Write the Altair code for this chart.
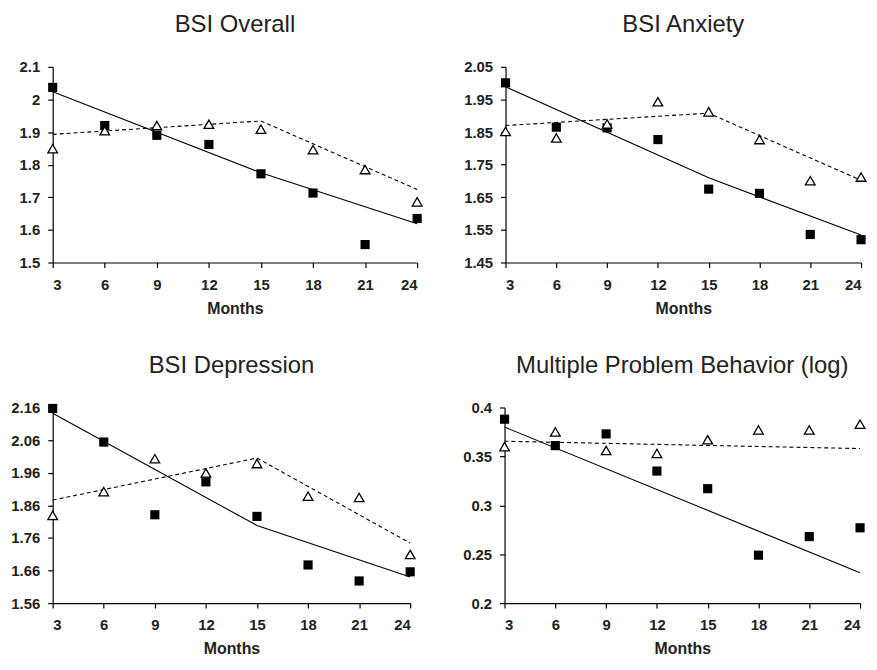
import altair as alt
import pandas as pd

months = [3, 6, 9, 12, 15, 18, 21, 24]
knots = [3, 15, 24]
mpb_knots = [3, 24]

titles = ["BSI Overall", "BSI Anxiety", "BSI Depression", "Multiple Problem Behavior (log)"]

overall_sq = [2.037, 1.920, 1.890, 1.862, 1.772, 1.713, 1.555, 1.635]
overall_tri = [1.849, 1.904, 1.920, 1.924, 1.909, 1.846, 1.785, 1.686]
overall_solid = [2.024, 1.775, 1.619]
overall_dash = [1.893, 1.934, 1.724]
overall_ticks = [1.5, 1.6, 1.7, 1.8, 1.9, 2.0, 2.1]

anxiety_sq = [2.001, 1.865, 1.863, 1.827, 1.675, 1.662, 1.536, 1.520]
anxiety_tri = [1.852, 1.832, 1.875, 1.943, 1.912, 1.827, 1.701, 1.712]
anxiety_solid = [1.989, 1.710, 1.534]
anxiety_dash = [1.870, 1.908, 1.702]
anxiety_ticks = [1.45, 1.55, 1.65, 1.75, 1.85, 1.95, 2.05]

depr_sq = [2.157, 2.054, 1.831, 1.932, 1.826, 1.677, 1.628, 1.656]
depr_tri = [1.829, 1.902, 2.003, 1.959, 1.988, 1.888, 1.884, 1.709]
depr_solid = [2.142, 1.798, 1.640]
depr_dash = [1.876, 2.005, 1.744]
depr_ticks = [1.56, 1.66, 1.76, 1.86, 1.96, 2.06, 2.16]

mpb_sq = [0.388, 0.361, 0.373, 0.335, 0.317, 0.249, 0.268, 0.277]
mpb_tri = [0.360, 0.375, 0.356, 0.353, 0.367, 0.377, 0.377, 0.383]
mpb_solid = [0.380, 0.231]
mpb_dash = [0.3655, 0.358]
mpb_ticks = [0.2, 0.25, 0.3, 0.35, 0.4]

FONT = "Liberation Sans"


def panel(title, sq, tri, line_x, solid, dash, ticks, fmt, width):
    pts = pd.DataFrame({"m": months, "sq": sq, "tri": tri})
    lines = pd.DataFrame({"m": line_x, "solid": solid, "dash": dash})
    x = alt.X("m:Q", scale=alt.Scale(domain=[3, 24], nice=False, zero=False),
              axis=alt.Axis(values=months, title="Months", format="d",
                            labelPadding=10, titlePadding=8, labelOverlap=False))
    yscale = alt.Scale(domain=[ticks[0], ticks[-1]], nice=False, zero=False)
    yaxis = alt.Axis(values=ticks, format=fmt, title=None, minExtent=45, maxExtent=45,
                     labelOverlap=False)
    base_l = alt.Chart(lines)
    base_p = alt.Chart(pts)
    solid_l = base_l.mark_line(color="black", strokeWidth=1.1).encode(
        x=x, y=alt.Y("solid:Q", scale=yscale, axis=yaxis))
    dash_l = base_l.mark_line(color="black", strokeWidth=1.1, strokeDash=[4, 3]).encode(
        x=x, y=alt.Y("dash:Q", scale=yscale, axis=yaxis))
    sq_p = base_p.mark_point(shape="square", filled=True, color="black", size=85, opacity=1).encode(
        x=x, y=alt.Y("sq:Q", scale=yscale, axis=yaxis))
    tri_p = base_p.mark_point(shape="triangle-up", filled=False, stroke="black", fill="white",
                              strokeWidth=1.3, size=95, opacity=1).encode(
        x=x, y=alt.Y("tri:Q", scale=yscale, axis=yaxis))
    return alt.layer(solid_l, dash_l, sq_p, tri_p).properties(
        width=width, height=197,
        title=alt.TitleParams(title, fontSize=24, font=FONT, fontWeight="normal",
                              color="#222", anchor="middle", offset=23))


p1 = panel(titles[0], overall_sq, overall_tri, knots, overall_solid, overall_dash,
           overall_ticks, ".1~f", 367)
p2 = panel(titles[1], anxiety_sq, anxiety_tri, knots, anxiety_solid, anxiety_dash,
           anxiety_ticks, ".2f", 358)
p3 = panel(titles[2], depr_sq, depr_tri, knots, depr_solid, depr_dash,
           depr_ticks, ".2f", 360)
p4 = panel(titles[3], mpb_sq, mpb_tri, mpb_knots, mpb_solid, mpb_dash,
           mpb_ticks, ".2~f", 358)

chart = alt.vconcat(
    alt.hconcat(p1, p2, spacing=36),
    alt.hconcat(p3, p4, spacing=42),
    spacing=38,
).properties(
    background="white",
    padding={"top": 3, "left": 0, "right": 0, "bottom": 0},
).configure_view(stroke=None).configure_axis(
    domainColor="black", tickColor="black", grid=False, tickSize=5,
    labelFont=FONT, labelFontSize=15, labelFontWeight="bold", labelColor="#222",
    labelPadding=8, titleFont=FONT, titleFontSize=16, titleFontWeight="bold",
    titleColor="#222", titlePadding=8, domainWidth=1.2, tickWidth=1.2,
)

chart.save("out.html", embed_options={"renderer": "svg", "actions": False})
